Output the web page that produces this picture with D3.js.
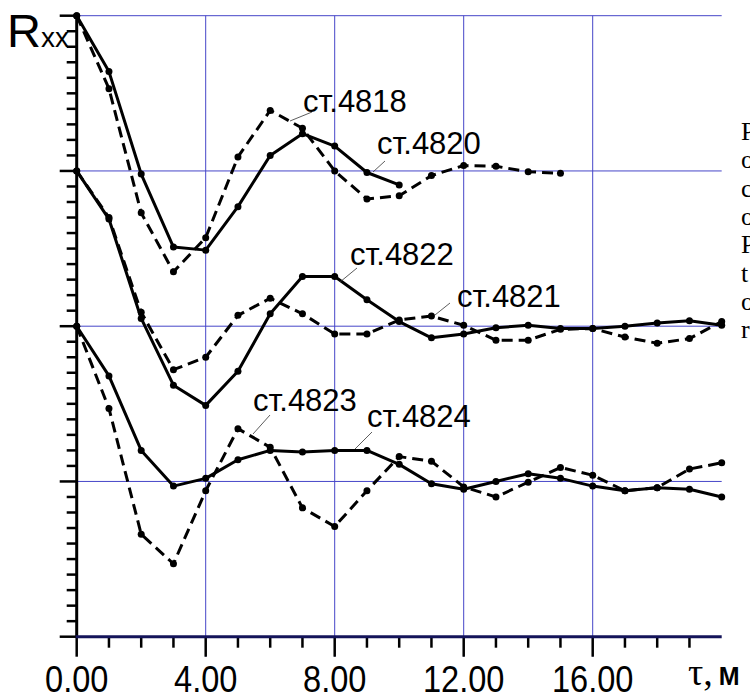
<!DOCTYPE html>
<html>
<head>
<meta charset="utf-8">
<script src="https://cdn.jsdelivr.net/npm/d3@7"></script>
<style>
  html, body { margin: 0; padding: 0; background: #fff; overflow: hidden; }
  svg { display: block; }
</style>
</head>
<body>
<div id="chart"></div>
<script>
// Autocorrelation values (lag step = 1 m)
const lags = d3.range(0, 21);

const r4820 = [1, 0.64, -0.02, -0.49, -0.51, -0.23, 0.10, 0.24, 0.16, -0.01, -0.09];
const r4818 = [1, 0.53, -0.27, -0.65, -0.43, 0.09, 0.39, 0.275, 0.0, -0.18, -0.16, -0.03, 0.035, 0.03, -0.005, -0.015];

const r4822 = [1, 0.69, 0.05, -0.38, -0.51, -0.29, 0.08, 0.32, 0.32, 0.17, 0.03, -0.075, -0.05, -0.01, 0.006, -0.015, -0.015, 0, 0.02, 0.035, 0.006];
const r4821 = [1, 0.70, 0.09, -0.28, -0.20, 0.07, 0.18, 0.08, -0.05, -0.05, 0.04, 0.065, 0.006, -0.09, -0.09, -0.02, -0.015, -0.07, -0.11, -0.08, 0.03];

const r4824 = [1, 0.68, 0.20, -0.03, 0.02, 0.14, 0.20, 0.19, 0.20, 0.20, 0.11, -0.015, -0.05, 0, 0.05, 0.02, -0.03, -0.06, -0.04, -0.05, -0.10];
const r4823 = [1, 0.47, -0.34, -0.53, -0.06, 0.34, 0.22, -0.17, -0.29, -0.06, 0.16, 0.13, -0.035, -0.10, -0.005, 0.09, 0.04, -0.06, -0.04, 0.08, 0.12];

// each pair of stations is shifted up by one unit
const seriesList = [
    { name: 'ст.4820', values: r4820, offset: 3, dashed: false },
    { name: 'ст.4818', values: r4818, offset: 3, dashed: true },
    { name: 'ст.4822', values: r4822, offset: 2, dashed: false },
    { name: 'ст.4821', values: r4821, offset: 2, dashed: true },
    { name: 'ст.4824', values: r4824, offset: 1, dashed: false },
    { name: 'ст.4823', values: r4823, offset: 1, dashed: true }
];

const xTickLabels = ['0.00', '4.00', '8.00', '12.00', '16.00'];
const sideText = ['Р', 'о', 'с', 'о', 'Р', 't', 'о', 'r'];

const width = 750;
const height = 700;
const gridColor = '#4646c8';

const x = d3.scaleLinear().domain([0, 20]).range([76.7, 721.7]);
const y = d3.scaleLinear().domain([0, 4]).range([636.7, 15.7]);

const svg = d3.select('#chart').append('svg')
    .attr('width', width)
    .attr('height', height)
    .style('font-family', '"Liberation Sans", Arial, sans-serif');

svg.append('rect').attr('width', width).attr('height', height).attr('fill', '#fff');

// Grid
const grid = svg.append('g');
grid.selectAll('.hgrid')
    .data([1, 2, 3, 4])
    .join('line')
    .attr('x1', x(0)).attr('x2', x(20))
    .attr('y1', d => y(d)).attr('y2', d => y(d))
    .attr('stroke', gridColor).attr('stroke-width', 1);
grid.selectAll('.vgrid')
    .data([4, 8, 12, 16])
    .join('line')
    .attr('x1', d => x(d)).attr('x2', d => x(d))
    .attr('y1', y(4)).attr('y2', y(0) + 20)
    .attr('stroke', gridColor).attr('stroke-width', 1);

// Y axis with minor ticks
const yAxis = svg.append('g');
yAxis.selectAll('line.tick')
    .data(d3.range(0, 41).map(i => i / 10))
    .join('line')
    .attr('x1', (d, i) => i % 10 === 0 ? x(0) - 17 : x(0) - 10)
    .attr('x2', x(0))
    .attr('y1', d => y(d)).attr('y2', d => y(d))
    .attr('stroke', '#000').attr('stroke-width', 2.5);
yAxis.append('line')
    .attr('x1', x(0)).attr('x2', x(0))
    .attr('y1', y(4)).attr('y2', y(0))
    .attr('stroke', '#000').attr('stroke-width', 3);

// X axis
const xAxis = svg.append('g');
xAxis.selectAll('line.tick')
    .data(d3.range(0, 20))
    .join('line')
    .attr('x1', d => x(d)).attr('x2', d => x(d))
    .attr('y1', y(0))
    .attr('y2', d => d % 4 === 0 ? y(0) + 20 : y(0) + 11)
    .attr('stroke', '#000').attr('stroke-width', 2.5);
xAxis.append('line')
    .attr('x1', x(0) - 1).attr('x2', x(20))
    .attr('y1', y(0)).attr('y2', y(0))
    .attr('stroke', '#14145a').attr('stroke-width', 3);

xAxis.selectAll('text')
    .data(xTickLabels)
    .join('text')
    .attr('transform', (d, i) => `translate(${x(i * 4)},692) scale(0.88,1)`)
    .attr('text-anchor', 'middle')
    .style('font-size', '37px')
    .attr('fill', '#000')
    .text(d => d);

// Axis titles
const yTitle = svg.append('text').attr('x', 7).attr('y', 46.7).attr('fill', '#000');
yTitle.append('tspan').style('font-size', '47px').text('R');
yTitle.append('tspan').style('font-size', '28px').text('xx');

const xTitle = svg.append('text').attr('x', 688).attr('y', 685).attr('fill', '#000');
xTitle.append('tspan')
    .style('font-family', '"Liberation Serif", "Times New Roman", serif')
    .style('font-size', '38px').text('τ,');
xTitle.append('tspan')
    .style('font-size', '25px').style('font-weight', 'bold').attr('dx', 6).text('М');

// Series
const line = d3.line()
    .x((d, i) => x(lags[i]))
    .y(d => d);

seriesList.forEach(s => {
    const pts = s.values.map(v => y(s.offset + v));
    svg.append('path')
        .attr('d', line(pts))
        .attr('fill', 'none')
        .attr('stroke', '#000')
        .attr('stroke-width', 3)
        .attr('stroke-linejoin', 'round')
        .attr('stroke-dasharray', s.dashed ? '11,6' : null);
    svg.append('g').selectAll('circle')
        .data(s.values)
        .join('circle')
        .attr('cx', (d, i) => x(lags[i]))
        .attr('cy', d => y(s.offset + d))
        .attr('r', 3.5)
        .attr('fill', '#000');
});

// Station labels with leader lines
const labels = [
    { text: 'ст.4818', tx: 303, ty: 112, lx1: 290, ly1: 121, lx2: 312, ly2: 112 },
    { text: 'ст.4820', tx: 377, ty: 154, lx1: 373, ly1: 172, lx2: 385, ly2: 161 },
    { text: 'ст.4822', tx: 350, ty: 265, lx1: 340, ly1: 282, lx2: 357, ly2: 268 },
    { text: 'ст.4821', tx: 457, ty: 307, lx1: 435, ly1: 315, lx2: 450, ly2: 303 },
    { text: 'ст.4823', tx: 253, ty: 411, lx1: 253, ly1: 434, lx2: 270, ly2: 415 },
    { text: 'ст.4824', tx: 367, ty: 427, lx1: 355, ly1: 449, lx2: 372, ly2: 432 }
];
labels.forEach(l => {
    svg.append('line')
        .attr('x1', l.lx1).attr('y1', l.ly1)
        .attr('x2', l.lx2).attr('y2', l.ly2)
        .attr('stroke', '#333').attr('stroke-width', 0.8);
    svg.append('text')
        .attr('x', l.tx).attr('y', l.ty)
        .style('font-size', '31px')
        .attr('fill', '#000')
        .text(l.text);
});

// Cut-off text from the neighbouring page column (clipped in the reference too)
svg.append('g').selectAll('text')
    .data(sideText)
    .join('text')
    .attr('x', 741)
    .attr('y', (d, i) => 140 + i * 28.3)
    .style('font-family', '"Liberation Serif", "Times New Roman", serif')
    .style('font-size', '26px')
    .attr('fill', '#000')
    .text(d => d);
</script>
</body>
</html>
